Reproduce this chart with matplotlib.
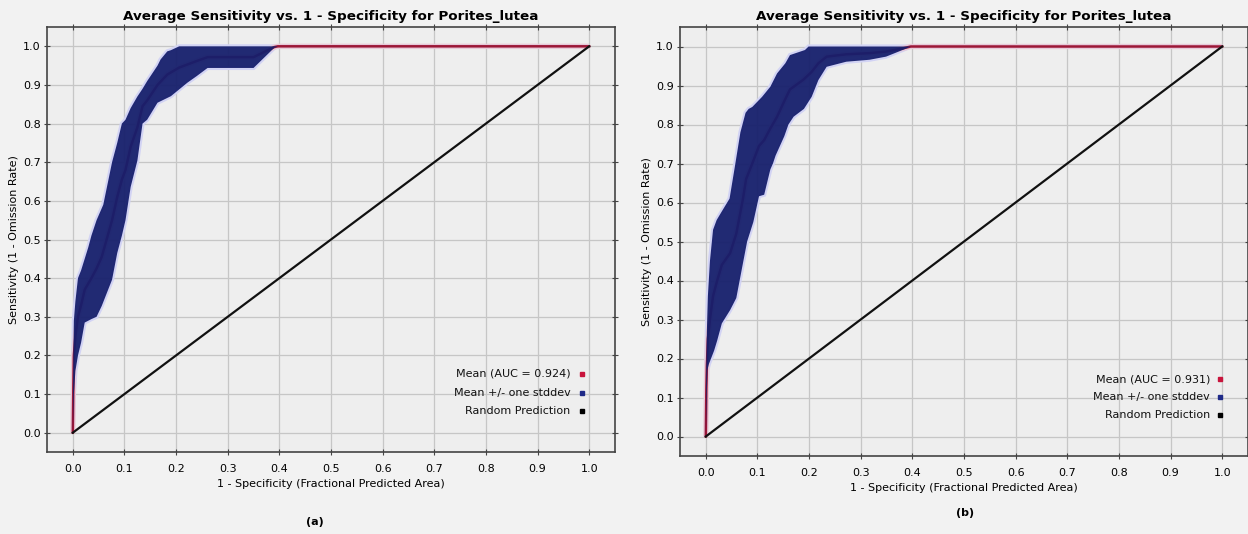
import numpy as np
import matplotlib
matplotlib.use("Agg")
import matplotlib.pyplot as plt

plt.rcParams['font.family'] = ['DejaVu Sans']

# ---------------- data ----------------
title = "Average Sensitivity vs. 1 - Specificity for Porites_lutea"
x_label = "1 - Specificity (Fractional Predicted Area)"
y_label = "Sensitivity (1 - Omission Rate)"
ticks = [0.0, 0.1, 0.2, 0.3, 0.4, 0.5, 0.6, 0.7, 0.8, 0.9, 1.0]
tick_labels = ["0.0", "0.1", "0.2", "0.3", "0.4", "0.5", "0.6", "0.7", "0.8", "0.9", "1.0"]
panel_tags = ["(a)", "(b)"]
auc_values = [0.924, 0.931]

# panel (a): mean + one stddev (upper edge of band)
a_up_fpr = [0.0, 0.001, 0.002, 0.005, 0.01, 0.016, 0.023, 0.03, 0.036, 0.046, 0.059,
            0.076, 0.086, 0.095, 0.102, 0.112, 0.125, 0.135, 0.144, 0.164, 0.17,
            0.183, 0.19, 0.206, 1.0]
a_up_sens = [0.0, 0.20, 0.29, 0.34, 0.40, 0.42, 0.45, 0.48, 0.51, 0.55, 0.59,
             0.70, 0.75, 0.80, 0.81, 0.84, 0.87, 0.89, 0.91, 0.95, 0.966,
             0.987, 0.99, 1.0, 1.0]
# panel (a): mean - one stddev (lower edge of band)
a_lo_fpr = [0.0, 0.002, 0.005, 0.01, 0.016, 0.023, 0.036, 0.046, 0.056, 0.076, 0.086,
            0.095, 0.102, 0.112, 0.125, 0.135, 0.144, 0.164, 0.19, 0.222, 0.24,
            0.261, 0.35, 0.39, 0.397, 1.0]
a_lo_sens = [0.0, 0.10, 0.16, 0.20, 0.233, 0.285, 0.294, 0.30, 0.328, 0.396, 0.465,
             0.51, 0.55, 0.636, 0.704, 0.80, 0.81, 0.854, 0.871, 0.906, 0.923,
             0.944, 0.944, 0.996, 1.0, 1.0]
# panel (a): mean curve
a_mean_fpr = [0.0, 0.001, 0.002, 0.005, 0.01, 0.016, 0.023, 0.036, 0.046, 0.056, 0.076,
              0.086, 0.095, 0.102, 0.112, 0.125, 0.135, 0.144, 0.164, 0.183, 0.206,
              0.222, 0.24, 0.261, 0.35, 0.39, 0.397, 1.0]
a_mean_sens = [0.0, 0.12, 0.20, 0.25, 0.30, 0.33, 0.37, 0.40, 0.425, 0.455, 0.55,
               0.61, 0.655, 0.68, 0.74, 0.79, 0.845, 0.86, 0.90, 0.927, 0.945,
               0.953, 0.962, 0.972, 0.972, 0.998, 1.0, 1.0]

# panel (b): mean + one stddev
b_up_fpr = [0.0, 0.001, 0.002, 0.004, 0.008, 0.014, 0.021, 0.03, 0.046, 0.056, 0.067,
            0.077, 0.083, 0.09, 0.109, 0.125, 0.138, 0.154, 0.163, 0.192, 0.199, 1.0]
b_up_sens = [0.0, 0.19, 0.27, 0.36, 0.45, 0.53, 0.555, 0.575, 0.61, 0.69, 0.78,
             0.83, 0.84, 0.845, 0.871, 0.897, 0.931, 0.957, 0.978, 0.991, 1.0, 1.0]
# panel (b): mean - one stddev
b_lo_fpr = [0.0, 0.003, 0.006, 0.016, 0.022, 0.031, 0.047, 0.059, 0.072, 0.08, 0.092,
            0.103, 0.113, 0.125, 0.13, 0.135, 0.152, 0.16, 0.17, 0.19, 0.205,
            0.218, 0.234, 0.272, 0.317, 0.349, 0.381, 0.397, 1.0]
b_lo_sens = [0.0, 0.17, 0.186, 0.22, 0.246, 0.29, 0.324, 0.355, 0.445, 0.50, 0.55,
             0.616, 0.62, 0.685, 0.70, 0.72, 0.77, 0.80, 0.82, 0.84, 0.871,
             0.914, 0.948, 0.961, 0.966, 0.974, 0.991, 1.0, 1.0]
# panel (b): mean curve
b_mean_fpr = [0.0, 0.001, 0.002, 0.004, 0.008, 0.014, 0.022, 0.031, 0.047, 0.059, 0.072,
              0.078, 0.09, 0.103, 0.113, 0.125, 0.138, 0.152, 0.163, 0.189, 0.205,
              0.218, 0.234, 0.272, 0.317, 0.349, 0.381, 0.397, 1.0]
b_mean_sens = [0.0, 0.12, 0.18, 0.25, 0.30, 0.36, 0.40, 0.44, 0.47, 0.52, 0.61,
               0.66, 0.70, 0.745, 0.76, 0.79, 0.82, 0.86, 0.89, 0.915, 0.935,
               0.957, 0.974, 0.98, 0.983, 0.987, 0.995, 1.0, 1.0]

random_fpr = [0.0, 1.0]
random_sens = [0.0, 1.0]

# ---------------- style ----------------
BG = "#f2f2f2"
AX_BG = "#eeeeee"
GRID = "#c6c6c6"
NAVY = "#161f6c"
HALO = "#d2d3f4"
RED = "#9c1636"
PINK = "#efc6cf"

fig = plt.figure(figsize=(12.48, 5.34), dpi=100, facecolor=BG)

panels = [
    dict(rect=[47 / 1248, 82 / 534, 568 / 1248, 425 / 534],
         up=(a_up_fpr, a_up_sens), lo=(a_lo_fpr, a_lo_sens),
         mean=(a_mean_fpr, a_mean_sens), auc=auc_values[0], tag=panel_tags[0],
         tag_xy=(315 / 1248, 1 - 522 / 534),
         leg_x=0.922, leg_y=[0.184, 0.139, 0.096], mk_x=0.942),
    dict(rect=[680 / 1248, 78 / 534, 568 / 1248, 429 / 534],
         up=(b_up_fpr, b_up_sens), lo=(b_lo_fpr, b_lo_sens),
         mean=(b_mean_fpr, b_mean_sens), auc=auc_values[1], tag=panel_tags[1],
         tag_xy=(965 / 1248, 1 - 513 / 534),
         leg_x=0.933, leg_y=[0.179, 0.138, 0.096], mk_x=0.951),
]

for p in panels:
    ax = fig.add_axes(p["rect"])
    ax.set_facecolor(AX_BG)
    ax.set_xlim(-0.05, 1.05)
    ax.set_ylim(-0.05, 1.05)
    ax.set_xticks(ticks)
    ax.set_xticklabels(tick_labels, fontsize=8)
    ax.set_yticks(ticks)
    ax.set_yticklabels(tick_labels, fontsize=8)
    ax.grid(True, color=GRID, linewidth=0.9)
    ax.set_axisbelow(True)
    ax.tick_params(axis="both", direction="inout", length=5, width=0.8, color="#444444")
    ax.tick_params(axis="x", pad=6)
    ax.tick_params(axis="y", pad=2)
    ax.tick_params(top=True, right=True)
    for s in ax.spines.values():
        s.set_color("#444444")
        s.set_linewidth(1.2)

    # stddev band built from its upper and lower edges
    ux, uy = np.asarray(p["up"][0]), np.asarray(p["up"][1])
    lx, ly = np.asarray(p["lo"][0]), np.asarray(p["lo"][1])
    px = np.concatenate([ux, lx[::-1]])
    py = np.concatenate([uy, ly[::-1]])
    # soft rim around the band
    ax.fill(px, py, facecolor="none", edgecolor=HALO, linewidth=3.0, zorder=2)

    # mean ROC curve (mostly underneath the band)
    mx, my = p["mean"]
    ax.plot(mx, my, color=PINK, linewidth=4.0, alpha=0.7, zorder=2.3,
            solid_capstyle="butt")
    ax.plot(mx, my, color=RED, linewidth=1.8, zorder=2.5)

    ax.fill(px, py, facecolor=NAVY, edgecolor="none", alpha=0.95, zorder=3)

    # random prediction diagonal
    ax.plot(random_fpr, random_sens, color="#111111", linewidth=1.6, zorder=4)

    ax.set_title(title, fontsize=9.7, fontweight="bold", pad=5)
    ax.set_xlabel(x_label, fontsize=8, labelpad=4)
    ax.set_ylabel(y_label, fontsize=8, labelpad=3)

    # key in the lower right corner: right-aligned labels with square markers
    entries = [(f"Mean (AUC = {p['auc']:.3f})", "#c8143c"),
               ("Mean +/- one stddev", "#1f2a88"),
               ("Random Prediction", "#000000")]
    for (label, col), yy in zip(entries, p["leg_y"]):
        ax.text(p["leg_x"], yy, label, transform=ax.transAxes, ha="right",
                va="center", fontsize=8, color="#111111", zorder=6)
        ax.plot([p["mk_x"]], [yy], marker="s", markersize=3.5, color=col,
                transform=ax.transAxes, clip_on=False, zorder=6)

    fig.text(p["tag_xy"][0], p["tag_xy"][1], p["tag"], ha="center", va="center",
             fontsize=8, fontweight="bold")

fig.savefig("out.png", dpi=100, facecolor=BG)
